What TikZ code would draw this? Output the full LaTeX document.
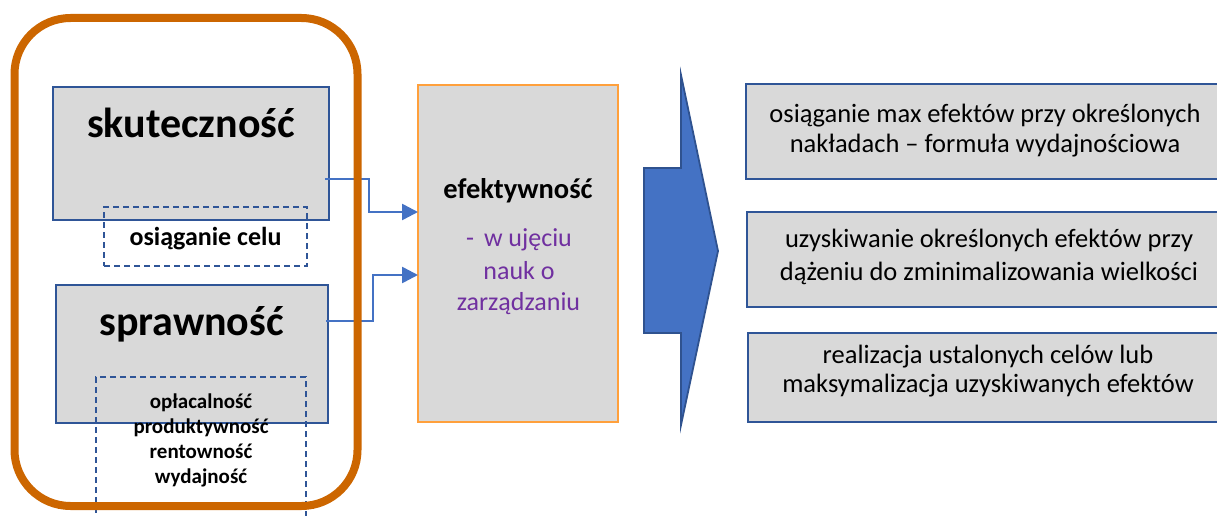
\documentclass[tikz,border=0pt]{standalone}
\usepackage{fontspec}
\setmainfont{Carlito}
\usetikzlibrary{arrows.meta}
\definecolor{frameorange}{RGB}{204,102,0}
\definecolor{boxgrey}{RGB}{217,217,217}
\definecolor{boxblue}{RGB}{47,85,151}
\definecolor{linkblue}{RGB}{68,114,196}
\definecolor{efborder}{RGB}{255,160,60}
\definecolor{txtpurple}{RGB}{112,48,160}
\definecolor{arrowedge}{RGB}{47,82,143}
\tikzset{
  greybox/.style={draw=boxblue, fill=boxgrey, line width=2.6pt, inner sep=0pt, outer sep=0pt},
  dashbox/.style={draw=boxblue, line width=2.4pt, dash pattern=on 6pt off 4pt, inner sep=0pt, outer sep=0pt},
  efbox/.style={draw=efborder, fill=boxgrey, line width=2.6pt, inner sep=0pt, outer sep=0pt},
  bigtxt/.style={font=\fontsize{42}{46}\selectfont\bfseries, inner sep=0pt, anchor=base},
  midtxt/.style={font=\fontsize{26}{30}\selectfont\bfseries, inner sep=0pt, anchor=base},
  listtxt/.style={font=\fontsize{21}{25}\selectfont\bfseries, inner sep=0pt, anchor=base},
  eftxt/.style={font=\fontsize{28.5}{32}\selectfont\bfseries, inner sep=0pt, anchor=base},
  purptxt/.style={font=\fontsize{26}{30}\selectfont, text=txtpurple, inner sep=0pt, anchor=base},
  righttxt/.style={font=\fontsize{26.5}{30}\selectfont, inner sep=0pt, anchor=base},
  conn/.style={draw=linkblue, line width=2.6pt, -{Triangle[length=16pt,width=16pt]}},
}
\begin{document}
\begin{tikzpicture}[x=1pt,y=-1pt]
\useasboundingbox (0,0) rectangle (1217,516);
\clip (0,0) rectangle (1217,516);
% left boxes
\node[greybox, minimum width=276, minimum height=133] (sk) at (191,153.5) {};
\node[bigtxt] (sktxt) at (191,138) {skuteczność};
\node[dashbox, minimum width=203, minimum height=59] (cel) at (205.5,236.5) {};
\node[midtxt] (celtxt) at (205.5,245) {osiąganie celu};
\node[greybox, minimum width=272, minimum height=138] (sp) at (192,354) {};
\node[bigtxt] (sptxt) at (191.5,335) {sprawność};
\node[dashbox, minimum width=210, minimum height=200] (lst) at (201,477) {};
\node[listtxt] (l1) at (201,408) {opłacalność};
\node[listtxt] (l2) at (201,433) {produktywność};
\node[listtxt] (l3) at (201,458) {rentowność};
\node[listtxt] (l4) at (201,483) {wydajność};
% middle box
\node[efbox, minimum width=200, minimum height=337] (ef) at (518,253.5) {};
\node[eftxt] (eftitle) at (518,198) {efektywność};
\node[purptxt] (p1) at (519,246) {-\hspace{10pt}w ujęciu};
\node[purptxt] (p2) at (519,279) {nauk o};
\node[purptxt] (p3) at (518.5,310) {zarządzaniu};
% connectors
\coordinate (s1) at (325,179);
\coordinate (s2) at (326,321);
\draw[conn] (s1) -- (369,179) -- (369,212) -- (ef.west |- 0,212);
\draw[conn] (s2) -- (373,321) -- (373,275) -- (ef.west |- 0,275);
% big arrow
\draw[fill=linkblue, draw=arrowedge, line width=1.8pt, line join=miter]
  (644,168) -- (681,168) -- (681,75) -- (718,251) -- (681,425) -- (681,333) -- (644,333) -- cycle;
% right boxes
\node[greybox, minimum width=500, minimum height=95, anchor=north west] (r1) at (746,84) {};
\node[righttxt] (r1a) at (985,123) {osiąganie max efektów przy określonych};
\node[righttxt] (r1b) at (985,152) {nakładach – formuła wydajnościowa};
\node[greybox, minimum width=500, minimum height=95, anchor=north west] (r2) at (747,212) {};
\node[righttxt] (r2a) at (989,247) {uzyskiwanie określonych efektów przy};
\node[righttxt] (r2b) at (989,280) {dążeniu do zminimalizowania wielkości};
\node[greybox, minimum width=500, minimum height=89, anchor=north west] (r3) at (748,333) {};
\node[righttxt] (r3a) at (988,363) {realizacja ustalonych celów lub};
\node[righttxt] (r3b) at (988,392) {maksymalizacja uzyskiwanych efektów};
% orange frame on top
\draw[frameorange, line width=8pt, rounded corners=56pt] (14.5,18) rectangle (357.5,506);
\end{tikzpicture}
\end{document}
